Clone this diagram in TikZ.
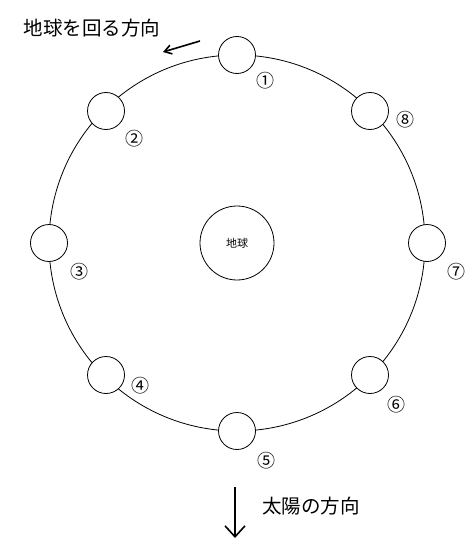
\documentclass[tikz,border=0pt]{standalone}
\usepackage{fontspec}
\setmainfont{Noto Sans CJK JP}
\usetikzlibrary{arrows.meta}

\begin{document}
\begin{tikzpicture}[
    x=1pt, y=-1pt, inner sep=0pt,
    moon/.style={circle, draw, fill=white, line width=0.8pt, minimum size=37pt},
    earth/.style={circle, draw, line width=0.8pt, minimum size=74pt, font=\fontsize{11}{11}\selectfont},
    num/.style={font=\fontsize{18}{18}\selectfont},
    caption/.style={font=\fontsize{19.5}{20}\selectfont},
    orbit/.style={draw, line width=0.8pt}
]
\useasboundingbox (0,0) rectangle (474,551);

\coordinate (c) at (237,243);

% orbit of the moon
\draw[orbit] (c) circle[radius=188];

\node[earth] (earth) at (c) {地球};

% moon positions
\node[moon] (m1) at (237,55) {};
\node[moon] (m2) at (106,111) {};
\node[moon] (m3) at (49,243) {};
\node[moon] (m4) at (106,375) {};
\node[moon] (m5) at (237,431) {};
\node[moon] (m6) at (370,375) {};
\node[moon] (m7) at (427,243) {};
\node[moon] (m8) at (370,111) {};

% numbers
\node[num] (n1) at (265,81) {①};
\node[num] (n2) at (134,139) {②};
\node[num] (n3) at (79,272) {③};
\node[num] (n4) at (140,386) {④};
\node[num] (n5) at (266,461) {⑤};
\node[num] (n6) at (396,405) {⑥};
\node[num] (n7) at (456,272) {⑦};
\node[num] (n8) at (405,120) {⑧};

% direction of revolution
\node[caption] (rot) at (92,28) {地球を回る方向};
\coordinate (rotS) at (200,41);
\coordinate (rotE) at (163,52);
\draw[line width=1.6pt, -{Straight Barb[length=7pt, width=9pt]}] (rotS) -- (rotE);

% direction of the sun
\coordinate (sunS) at (235,487);
\coordinate (sunE) at (235,538);
\draw[line width=1.6pt, -{Straight Barb[length=11pt, width=20pt]}] (sunS) -- (sunE);
\node[caption] (sun) at (311,506) {太陽の方向};

\end{tikzpicture}
\end{document}
